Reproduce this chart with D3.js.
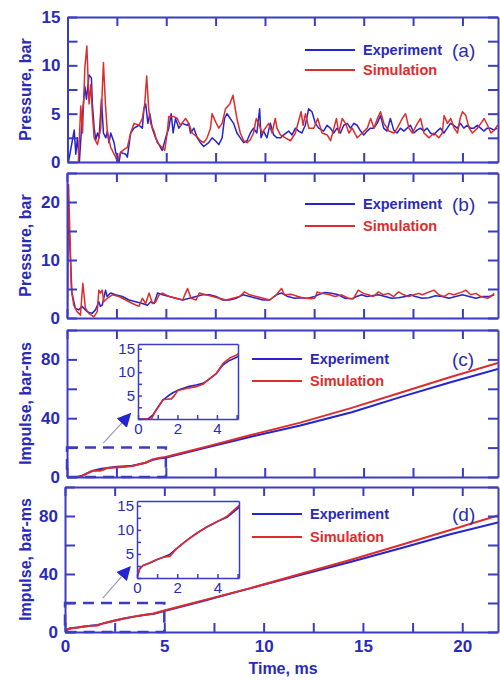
<!DOCTYPE html>
<html>
<head>
<meta charset="utf-8">
<script src="https://cdn.jsdelivr.net/npm/d3@7"></script>
<style>
body { margin: 0; background: #fff; }
text { font-family: "Liberation Sans", Arial, sans-serif; }
</style>
</head>
<body>
<svg id="chart" width="500" height="680"></svg>
<script>
// pressure, panel (a): [time ms, bar]
var expA = [[0.05,0],[0.34,3.3],[0.42,0.8],[0.5,2.5],[0.6,0],[0.76,5.0],[0.88,7.8],[0.96,6.5],[1.09,9.0],[1.21,8.7],[1.26,6.0],[1.35,3.5],[1.43,2.3],[1.52,3.0],[1.6,2.5],[1.72,6.5],[1.82,3.0],[1.94,2.5],[2.02,3.2],[2.1,2.0],[2.19,3.0],[2.36,2.0],[2.44,1.0],[2.56,0.3],[2.61,0],[2.69,1.0],[2.95,0.8],[3.03,0.5],[3.2,3.0],[3.37,3.5],[3.62,3.8],[3.79,3.5],[3.87,5.5],[3.96,6.0],[4.07,4.0],[4.17,5.0],[4.29,3.5],[4.46,2.5],[4.71,1.5],[4.8,1.2],[4.97,2.5],[5.13,3.5],[5.25,5.0],[5.35,3.0],[5.47,4.5],[5.64,3.5],[5.81,4.0],[6.06,3.8],[6.14,4.0],[6.23,3.0],[6.4,3.5],[6.57,2.5],[6.73,2.0],[6.9,1.6],[7.15,2.0],[7.32,2.5],[7.49,2.2],[7.66,1.8],[7.83,2.5],[7.95,4.5],[8.08,5.0],[8.24,4.5],[8.41,4.0],[8.58,3.0],[8.75,2.5],[8.92,2.0],[9.09,2.2],[9.26,3.0],[9.42,3.5],[9.59,3.0],[9.73,5.5],[9.8,2.5],[9.93,3.2],[10.1,2.5],[10.27,4.0],[10.44,2.8],[10.61,2.5],[10.78,2.5],[10.95,2.8],[11.2,3.2],[11.37,2.8],[11.54,3.5],[11.71,3.2],[11.87,3.0],[12.04,3.8],[12.21,5.5],[12.38,5.2],[12.55,4.0],[12.72,3.5],[12.97,3.2],[13.14,3.8],[13.31,3.5],[13.48,3.0],[13.65,3.5],[13.82,3.0],[13.99,3.8],[14.16,4.0],[14.33,3.5],[14.5,4.0],[14.67,3.8],[14.84,3.2],[15.0,2.8],[15.17,3.2],[15.34,3.5],[15.51,3.5],[15.68,4.0],[15.85,4.8],[16.01,3.5],[16.18,3.2],[16.35,4.5],[16.52,3.3],[16.69,3.0],[16.86,3.5],[17.03,3.2],[17.2,3.5],[17.37,3.8],[17.54,3.0],[17.7,3.3],[17.87,3.5],[18.04,3.2],[18.21,3.5],[18.38,3.0],[18.55,2.8],[18.72,3.2],[18.89,3.5],[19.06,3.0],[19.23,3.5],[19.39,4.0],[19.56,3.8],[19.73,3.5],[19.9,4.0],[20.07,3.5],[20.24,3.8],[20.41,3.5],[20.58,3.5],[20.75,3.8],[20.92,3.5],[21.08,3.2],[21.25,3.5],[21.42,3.5],[21.59,3.3],[21.76,3.5]];
var simA = [[0.55,0],[0.67,5.8],[0.76,3.0],[0.88,9.8],[0.98,12.0],[1.09,6.0],[1.18,8.0],[1.26,5.0],[1.35,2.5],[1.52,1.8],[1.68,3.5],[1.82,10.3],[1.92,6.0],[2.02,3.0],[2.19,1.5],[2.44,0.5],[2.53,0],[2.69,1.0],[2.86,1.3],[3.03,1.5],[3.2,3.0],[3.37,4.0],[3.62,3.8],[3.79,4.5],[3.91,6.0],[4.01,8.9],[4.11,5.5],[4.21,4.0],[4.38,3.2],[4.55,2.0],[4.8,1.5],[4.92,1.2],[5.05,3.0],[5.13,4.7],[5.39,4.7],[5.56,4.5],[5.72,3.8],[5.98,4.5],[6.14,4.0],[6.31,3.0],[6.57,2.6],[6.73,2.2],[6.9,2.0],[7.07,2.5],[7.24,3.5],[7.32,5.0],[7.49,4.2],[7.66,3.5],[7.83,4.0],[8.0,5.5],[8.22,6.0],[8.38,6.9],[8.58,4.5],[8.75,3.0],[8.92,2.2],[9.09,2.0],[9.26,2.3],[9.42,3.0],[9.56,4.5],[9.68,4.0],[9.85,3.0],[10.02,3.5],[10.19,4.0],[10.36,3.0],[10.52,4.5],[10.61,3.5],[10.78,2.8],[11.03,2.5],[11.29,2.2],[11.54,3.0],[11.71,4.3],[11.83,5.2],[11.93,3.8],[12.05,5.0],[12.22,3.5],[12.47,3.5],[12.67,4.5],[12.89,3.0],[13.15,2.8],[13.32,2.2],[13.49,3.5],[13.62,4.5],[13.74,3.0],[13.91,4.5],[14.08,4.0],[14.25,3.0],[14.42,3.5],[14.67,2.5],[14.92,3.0],[15.18,3.5],[15.35,4.5],[15.52,3.5],[15.69,4.5],[15.85,5.2],[16.02,4.0],[16.28,3.2],[16.53,3.0],[16.7,3.5],[16.95,4.5],[17.12,5.0],[17.29,3.5],[17.46,3.0],[17.72,4.0],[17.88,4.5],[18.05,3.0],[18.31,2.5],[18.56,3.0],[18.8,2.5],[18.98,3.0],[19.07,4.8],[19.24,4.0],[19.41,4.5],[19.58,3.5],[19.75,3.0],[19.88,4.5],[20.0,5.2],[20.17,4.8],[20.34,3.5],[20.5,3.0],[20.76,3.5],[20.93,4.0],[21.1,4.5],[21.27,3.8],[21.44,3.0],[21.61,3.3],[21.78,3.8]];

// pressure, panel (b)
var expB = [[0.02,0.5],[0.05,20],[0.25,4.3],[0.42,1.7],[0.59,1.4],[0.76,2.0],[1.02,1.1],[1.27,0.8],[1.44,1.4],[1.61,2.8],[1.69,2.0],[1.78,2.2],[1.95,4.8],[2.03,3.7],[2.2,4.3],[2.46,4.0],[2.8,3.7],[3.14,3.1],[3.47,2.8],[3.81,2.5],[4.07,2.2],[4.24,2.8],[4.41,2.5],[4.58,4.3],[4.83,4.0],[5.17,3.7],[5.51,3.4],[5.85,3.1],[6.19,3.4],[6.53,3.7],[6.86,4.0],[7.2,4.0],[7.54,3.7],[7.88,3.1],[8.22,3.1],[8.56,3.4],[8.9,4.0],[9.24,3.7],[9.58,3.4],[9.92,3.1],[10.25,3.1],[10.59,4.0],[10.85,4.3],[11.17,3.7],[11.51,3.4],[11.85,3.5],[12.19,3.4],[12.53,3.7],[12.7,4.0],[13.04,4.4],[13.38,4.25],[13.72,4.0],[14.06,3.4],[14.4,3.3],[14.65,3.7],[14.9,4.0],[15.16,3.7],[15.41,3.85],[15.75,4.0],[16.09,3.7],[16.43,3.4],[16.77,3.5],[17.11,3.7],[17.37,4.0],[17.62,3.7],[17.96,3.4],[18.3,3.5],[18.64,3.85],[18.98,3.7],[19.32,3.4],[19.66,3.7],[20.0,4.0],[20.34,3.7],[20.68,3.4],[21.02,3.7],[21.36,3.7],[21.61,4.0]];
var simB = [[0.02,0.5],[0.08,23],[0.22,5],[0.34,2.2],[0.51,1.1],[0.68,0.5],[0.8,6],[0.93,1.7],[1.1,0.8],[1.36,0.2],[1.53,1.1],[1.61,4.8],[1.69,4.3],[1.78,4.8],[1.86,2.8],[2.03,3.4],[2.29,4.0],[2.63,3.7],[2.97,3.1],[3.31,2.5],[3.64,2.0],[3.81,3.4],[3.98,2.5],[4.15,4.3],[4.32,2.5],[4.49,2.8],[4.66,4.0],[4.83,4.3],[5.17,3.7],[5.51,3.4],[5.85,3.1],[6.02,4.5],[6.1,5.1],[6.27,3.4],[6.53,3.1],[6.69,4.3],[7.03,4.0],[7.37,3.7],[7.71,3.4],[8.05,3.1],[8.39,3.4],[8.73,3.7],[8.98,4.5],[9.24,4.0],[9.58,3.7],[9.92,3.4],[10.25,3.1],[10.59,4.0],[10.85,5.1],[11.0,4.0],[11.34,4.1],[11.68,3.7],[12.02,3.4],[12.36,3.3],[12.53,3.4],[12.66,4.5],[12.87,4.25],[13.21,4.1],[13.55,3.7],[13.89,4.0],[14.23,3.4],[14.48,3.3],[14.73,4.8],[14.99,4.25],[15.24,4.0],[15.5,3.7],[15.75,4.5],[16.01,4.0],[16.26,4.25],[16.52,3.7],[16.77,4.5],[17.03,4.0],[17.28,3.7],[17.54,4.0],[17.79,4.25],[17.96,4.0],[18.56,4.8],[18.81,4.0],[19.06,3.7],[19.32,4.25],[19.57,4.0],[20.0,4.5],[20.17,4.8],[20.42,4.0],[20.68,4.25],[20.93,3.7],[21.27,3.4],[21.44,3.7],[21.61,4.25]];

// impulse, panel (c): [time ms, bar-ms]
var expC = [[0,0],[0.5,0],[0.76,0.9],[1.01,2.5],[1.27,4.1],[1.52,4.9],[1.77,5.6],[2.11,6.3],[2.53,6.9],[2.95,7.25],[3.29,7.6],[3.54,8.3],[3.97,9.7],[4.3,11.5],[4.64,12.5],[4.98,13.1],[7,19.8],[9.3,27.4],[11.8,35],[14.4,44],[16.9,54.5],[19.4,64.5],[21.8,73.5]];
var simC = [[0,0],[0.68,0],[0.84,1.3],[1.1,3.0],[1.27,4.1],[1.43,4.2],[1.69,4.3],[1.86,5.1],[2.03,6.1],[2.45,6.5],[2.95,6.9],[3.29,7.4],[3.54,8.3],[3.97,9.7],[4.3,11.8],[4.64,13.0],[4.98,13.6],[7,20.5],[9.3,28.6],[11.8,37],[14.4,47],[16.9,57.5],[19.4,68],[21.8,77.5]];

// impulse, panel (d)
var expD = [[0,0],[0.13,1.9],[0.3,2.6],[0.63,3.1],[0.97,3.8],[1.3,4.3],[1.63,4.9],[1.97,6.1],[2.47,7.8],[2.97,9.3],[3.47,10.6],[3.97,11.7],[4.47,12.6],[5.05,14.6],[7,21.5],[9.3,30.1],[11.84,39.3],[14.36,48.3],[16.9,57.7],[19.4,67.4],[21.8,75.5]];
var simD = [[0,0],[0.13,1.9],[0.3,2.6],[0.63,3.1],[0.97,3.8],[1.3,4.3],[1.63,4.5],[1.97,6.1],[2.47,7.8],[2.97,9.3],[3.47,10.6],[3.97,11.7],[4.47,12.8],[5.05,15.0],[7,22],[9.3,30.1],[11.84,40],[14.36,49.7],[16.9,60],[19.4,70.3],[21.8,80.4]];

var xTicks = [0, 2.5, 5, 7.5, 10, 12.5, 15, 17.5, 20];
var xLabels = [0, 5, 10, 15, 20];
var insetXTicks = [0, 1, 2, 3, 4, 5];
var insetXLabels = [0, 2, 4];
var insetYTicks = [0, 2.5, 5, 7.5, 10, 12.5, 15];
var insetYLabels = [5, 10, 15];
var legendNames = ["Experiment", "Simulation"];

var axisColor = "#3b3bc4",
    textColor = "#2a2ab8",
    expColor = "#2424d0",
    simColor = "#dd2c2c";

var svg = d3.select("#chart");
svg.append("rect").attr("width", 500).attr("height", 680).attr("fill", "#fff");

var defs = svg.append("defs");
defs.append("marker")
    .attr("id", "head")
    .attr("viewBox", "0 0 10 10")
    .attr("refX", 9).attr("refY", 5)
    .attr("markerWidth", 14).attr("markerHeight", 14)
    .attr("markerUnits", "userSpaceOnUse")
    .attr("orient", "auto")
    .append("path")
    .attr("d", "M0,0L10,5L0,10Z")
    .attr("fill", expColor);

var line = d3.line().x(function(d) { return this.x(d[0]) }).y(function(d) { return this.y(d[1]) });

function styleAxis(g, size) {
    g.select(".domain").attr("stroke", axisColor).attr("stroke-width", 2);
    g.selectAll(".tick line").attr("stroke", axisColor).attr("stroke-width", 2);
    g.selectAll("text")
	.attr("fill", textColor)
	.style("font-size", size + "px")
	.style("font-weight", "bold");
}

function drawLines(g, x, y, series, width, clipId) {
    var ln = d3.line().x(function(d) { return x(d[0]) }).y(function(d) { return y(d[1]) });
    series.forEach(function(s) {
	g.append("path")
	    .datum(s.data)
	    .attr("d", ln)
	    .attr("fill", "none")
	    .attr("stroke", s.color)
	    .attr("stroke-width", width)
	    .attr("stroke-linejoin", "round")
	    .attr("clip-path", "url(#" + clipId + ")");
    });
}

var clipN = 0;
function addClip(x0, y0, w, h) {
    var id = "clip" + (clipN++);
    defs.append("clipPath").attr("id", id)
	.append("rect").attr("x", x0).attr("y", y0).attr("width", w).attr("height", h);
    return id;
}

function addPanel(cfg) {
    var right = 498;
    var x = d3.scaleLinear().domain([0, 21.8]).range([cfg.left, right]);
    var y = d3.scaleLinear().domain([0, cfg.ymax]).range([cfg.bottom, cfg.top]);
    var g = svg.append("g");

    var clipId = addClip(cfg.left, cfg.top, right - cfg.left, cfg.bottom - cfg.top);
    drawLines(g, x, y, [{data: cfg.exp, color: expColor}, {data: cfg.sim, color: simColor}], cfg.lw, clipId);

    var yFmt = function(d) { return cfg.yLabels.indexOf(d) >= 0 ? d : "" };
    var xFmt = function(d) { return cfg.showX && xLabels.indexOf(d) >= 0 ? d : "" };

    g.append("g").attr("transform", "translate(0," + cfg.bottom + ")")
	.call(d3.axisBottom(x).tickValues(xTicks).tickSize(-9).tickSizeOuter(0).tickPadding(8).tickFormat(xFmt))
	.call(styleAxis, 17);
    g.append("g").attr("transform", "translate(0," + cfg.top + ")")
	.call(d3.axisTop(x).tickValues(xTicks).tickSize(-9).tickSizeOuter(0).tickFormat(""))
	.call(styleAxis, 17);
    g.append("g").attr("transform", "translate(" + cfg.left + ",0)")
	.call(d3.axisLeft(y).tickValues(cfg.yTicks).tickSize(-10).tickSizeOuter(0).tickPadding(7).tickFormat(yFmt))
	.call(styleAxis, 17);
    g.append("g").attr("transform", "translate(" + right + ",0)")
	.call(d3.axisRight(y).tickValues(cfg.yTicks).tickSize(-10).tickSizeOuter(0).tickFormat(""))
	.call(styleAxis, 17);

    // y axis title
    g.append("text")
	.attr("transform", "translate(25," + ((cfg.top + cfg.bottom) / 2) + ") rotate(-90)")
	.attr("text-anchor", "middle")
	.attr("dy", "0.35em")
	.attr("fill", textColor)
	.style("font-size", "16px")
	.style("font-weight", "bold")
	.text(cfg.title);

    // legend
    var colors = [expColor, simColor];
    legendNames.forEach(function(name, i) {
	var ly = cfg.legY[i];
	g.append("line")
	    .attr("x1", cfg.legX).attr("x2", cfg.legX + 50)
	    .attr("y1", ly).attr("y2", ly)
	    .attr("stroke", colors[i]).attr("stroke-width", 2);
	g.append("text")
	    .attr("x", cfg.legX + 58).attr("y", ly)
	    .attr("dy", "0.35em")
	    .attr("fill", i == 0 ? textColor : simColor)
	    .style("font-size", "14.5px")
	    .style("font-weight", "bold")
	    .text(name);
    });
    g.append("text")
	.attr("x", 452).attr("y", cfg.legY[0])
	.attr("dy", "0.35em")
	.attr("fill", textColor)
	.style("font-size", "19px")
	.text(cfg.tag);

    if (cfg.inset) addInset(g, x, y, cfg);
}

function addInset(g, x, y, cfg) {
    var ins = cfg.inset;
    // dashed zoom box in main coordinates
    g.append("rect")
	.attr("x", x(0)).attr("y", y(20))
	.attr("width", x(5) - x(0)).attr("height", y(0) - y(20))
	.attr("fill", "none")
	.attr("stroke", axisColor)
	.attr("stroke-width", 2.5)
	.attr("stroke-dasharray", "11,7");
    // arrow
    g.append("line")
	.attr("x1", x(ins.arrow[0][0])).attr("y1", y(ins.arrow[0][1]))
	.attr("x2", x(ins.arrow[1][0])).attr("y2", y(ins.arrow[1][1]))
	.attr("stroke", "#9a9ac8")
	.attr("stroke-width", 1.2)
	.attr("marker-end", "url(#head)");

    var ix = d3.scaleLinear().domain([0, 5.07]).range([ins.x0, ins.x1]);
    var iy = d3.scaleLinear().domain([0, 16]).range([ins.y1, ins.y0]);
    g.append("rect")
	.attr("x", ins.x0).attr("y", ins.y0)
	.attr("width", ins.x1 - ins.x0).attr("height", ins.y1 - ins.y0)
	.attr("fill", "#fff");
    var clipId = addClip(ins.x0, ins.y0, ins.x1 - ins.x0, ins.y1 - ins.y0);
    drawLines(g, ix, iy, [{data: cfg.exp, color: expColor}, {data: cfg.sim, color: simColor}], 1.6, clipId);

    var st = function(sel) {
	sel.select(".domain").attr("stroke", axisColor).attr("stroke-width", 1.5);
	sel.selectAll(".tick line").attr("stroke", axisColor).attr("stroke-width", 1.5);
	sel.selectAll("text").attr("fill", textColor).style("font-size", "15px");
    };
    g.append("g").attr("transform", "translate(0," + ins.y1 + ")")
	.call(d3.axisBottom(ix).tickValues(insetXTicks).tickSize(-4).tickSizeOuter(0).tickPadding(4)
	      .tickFormat(function(d) { return insetXLabels.indexOf(d) >= 0 ? d : "" }))
	.call(st);
    g.append("g").attr("transform", "translate(0," + ins.y0 + ")")
	.call(d3.axisTop(ix).tickValues([]).tickSizeOuter(0)).call(st);
    g.append("g").attr("transform", "translate(" + ins.x0 + ",0)")
	.call(d3.axisLeft(iy).tickValues(insetYTicks).tickSize(-4).tickSizeOuter(0).tickPadding(3)
	      .tickFormat(function(d) { return insetYLabels.indexOf(d) >= 0 ? d : "" }))
	.call(st);
    g.append("g").attr("transform", "translate(" + ins.x1 + ",0)")
	.call(d3.axisRight(iy).tickValues([]).tickSizeOuter(0)).call(st);
}

addPanel({top: 17, bottom: 162, left: 67.5, ymax: 15, yTicks: [0, 2.5, 5, 7.5, 10, 12.5, 15], yLabels: [0, 5, 10, 15],
	  exp: expA, sim: simA, lw: 1.5, title: "Pressure, bar", legX: 305, legY: [50, 70], tag: "(a)"});
addPanel({top: 173, bottom: 318, left: 67, ymax: 25, yTicks: [0, 5, 10, 15, 20, 25], yLabels: [0, 10, 20],
	  exp: expB, sim: simB, lw: 1.5, title: "Pressure, bar", legX: 305, legY: [204, 226], tag: "(b)"});
addPanel({top: 330, bottom: 477, left: 67, ymax: 100, yTicks: [0, 20, 40, 60, 80, 100], yLabels: [0, 40, 80],
	  exp: expC, sim: simC, lw: 2, title: "Impulse, bar-ms", legX: 252, legY: [359, 381], tag: "(c)",
	  inset: {x0: 138, x1: 238, y0: 344, y1: 419, arrow: [[1.83, 23], [3.2, 43]]}});
addPanel({top: 487, bottom: 632, left: 65, ymax: 100, yTicks: [0, 20, 40, 60, 80, 100], yLabels: [0, 40, 80],
	  exp: expD, sim: simD, lw: 2, title: "Impulse, bar-ms", legX: 252, legY: [514, 537], tag: "(d)", showX: true,
	  inset: {x0: 137, x1: 239, y0: 501, y1: 578, arrow: [[1.9, 23.4], [3.27, 44.8]]}});

svg.append("text")
    .attr("x", 283).attr("y", 674)
    .attr("text-anchor", "middle")
    .attr("fill", textColor)
    .style("font-size", "16px")
    .style("font-weight", "bold")
    .text("Time, ms");
</script>
</body>
</html>
